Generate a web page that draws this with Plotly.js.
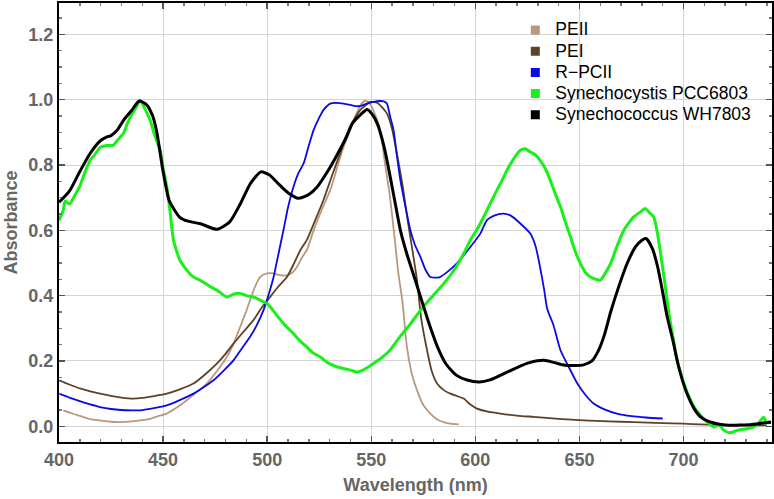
<!DOCTYPE html>
<html>
<head>
<meta charset="utf-8">
<script src="https://cdn.plot.ly/plotly-3.0.1.min.js"></script>
<style>html,body{margin:0;padding:0;background:#fff;}#chart{width:774px;height:499px;}</style>
</head>
<body>
<div id="chart"></div>
<script>
// ---- Data ----
const peiiWl = [402,406,410,415,419.7,425,429.3,435,440,443.8,447,451.8,456,461.4,466,471,476,480.6,484,487,489.5,491.8,494,496.6,500,503,506,509.5,512,514.3,517,519,522.3,526,530.3,533.5,536.7,540,543,545,547,549,551.5,554.3,556.5,559,561,563,565,567,569.5,572,575,578.4,581.5,584.8,588,592];
const peiiAbs = [0.049,0.04,0.032,0.022,0.018,0.014,0.013,0.015,0.019,0.023,0.03,0.039,0.055,0.08,0.104,0.131,0.17,0.212,0.255,0.304,0.345,0.386,0.425,0.457,0.468,0.468,0.463,0.462,0.47,0.488,0.52,0.539,0.60,0.66,0.723,0.79,0.855,0.91,0.958,0.985,0.996,0.99,0.96,0.907,0.81,0.702,0.59,0.47,0.38,0.25,0.16,0.11,0.065,0.039,0.022,0.013,0.008,0.006];

const peiWl = [400,405,410,415,419.7,425,430,435.7,440,445,451.8,458,464.6,470,475.8,480,483.8,488,493.4,497,501.4,505,509.5,513,515.9,519,523,527,531,535,538,541.5,545,549.5,553,557.5,560,562.3,565,567,570,572,574,576.8,579,581.6,585,588,591,594.4,597,600.8,606,612,620,628,640,652,664,676,690,700,708,716,725,740];
const peiAbs = [0.141,0.128,0.116,0.107,0.10,0.093,0.088,0.085,0.087,0.092,0.10,0.113,0.131,0.158,0.192,0.222,0.253,0.285,0.325,0.36,0.396,0.425,0.457,0.50,0.539,0.57,0.63,0.692,0.765,0.835,0.89,0.937,0.97,0.993,0.99,0.958,0.91,0.835,0.74,0.651,0.53,0.447,0.33,0.233,0.17,0.131,0.11,0.10,0.093,0.085,0.07,0.054,0.045,0.039,0.033,0.029,0.023,0.018,0.015,0.013,0.01,0.008,0.006,0.004,0.003,0.003];

const rpciiWl = [400,405,410,415,419.7,425,430,435,439,445,451.8,458,464.6,470,474.2,479,483.8,488,491.8,495,498.2,501,503,505.5,507.8,510,512.6,515,517.5,520,522.3,525,527,530.3,533,536.7,540,543,545.5,548,551,554.3,556,557.5,559,560.7,562.5,564,566.5,568.8,571,573.6,576,578.4,581,583,587,591,597.6,602.4,605.6,609,613.6,617,621.6,626.4,629,631,633,634.5,637.5,640.9,645,649,653,657,662,668,675,682,690];
const rpciiAbs = [0.10,0.088,0.077,0.067,0.059,0.053,0.05,0.049,0.049,0.055,0.064,0.08,0.10,0.122,0.141,0.17,0.202,0.24,0.274,0.31,0.355,0.41,0.455,0.53,0.60,0.67,0.733,0.775,0.805,0.86,0.907,0.945,0.968,0.988,0.99,0.988,0.984,0.98,0.982,0.988,0.993,0.996,0.995,0.988,0.95,0.907,0.82,0.753,0.67,0.60,0.555,0.519,0.48,0.457,0.455,0.457,0.475,0.498,0.549,0.59,0.631,0.645,0.651,0.645,0.621,0.59,0.55,0.49,0.42,0.36,0.31,0.233,0.18,0.131,0.095,0.069,0.052,0.039,0.031,0.027,0.024];

const cystisWl = [400,402,403,405,407,410,412,415,417,420,423,426,428,431,433,435,437,439,441,443.8,446,448.6,450,451.8,453.5,455,458,461.4,464,467.8,472,475.8,480.6,484,487,490,493.4,497,500,504,507.8,512.6,516,519,522,525.5,529,533.5,538,541,543,546,549,551,555,559,564,569,573.6,579,584.8,590,594.4,597.6,601,604,607,610.4,613,615.2,618,621.6,624,626.4,629,631,633.5,636,638.5,640.9,643,645.7,648,650.5,653,655.3,658,660,662.5,665,668,671.3,674,676,679,681.7,683.5,685.7,687.5,689,691,693,695,697,700,702,705,708,711,714.6,717,719,722,724,727,730,733.7,736,738.5,740,742];
const cystisAbs = [0.63,0.66,0.69,0.68,0.70,0.735,0.77,0.815,0.83,0.855,0.86,0.86,0.875,0.897,0.93,0.955,0.975,0.998,0.975,0.937,0.89,0.845,0.79,0.733,0.65,0.57,0.51,0.478,0.46,0.447,0.43,0.417,0.396,0.405,0.407,0.40,0.396,0.385,0.376,0.345,0.315,0.284,0.26,0.243,0.225,0.212,0.195,0.182,0.175,0.17,0.166,0.172,0.183,0.192,0.21,0.233,0.276,0.315,0.355,0.395,0.437,0.48,0.529,0.57,0.605,0.641,0.68,0.723,0.755,0.784,0.815,0.845,0.85,0.84,0.83,0.815,0.79,0.753,0.71,0.672,0.63,0.58,0.535,0.498,0.47,0.457,0.45,0.447,0.47,0.499,0.55,0.60,0.625,0.641,0.655,0.667,0.655,0.641,0.59,0.529,0.44,0.346,0.27,0.2,0.135,0.1,0.06,0.035,0.015,-0.002,0.005,-0.01,-0.02,-0.017,-0.01,-0.008,-0.002,0.01,0.028,0.01,0.015];

const coccusWl = [400,405,410,415,420,423,425,428,431,435,438.5,442,445,447,450,453,458,462,468,476,482,487,492,497,501,505,510,515,520,524,529,533.5,538,541,545,548,550.5,553,556,558,561,564,567,570,574,578,582,586,591,596,602,607,612,616,620,626,633,638,643,648,652,656,659,662,665,669,673,677,680,682,685,687.5,690,692,695,697,700,702,705,708,712,716,720,724,728,732,736,740,742];
const coccusAbs = [0.686,0.72,0.78,0.836,0.875,0.886,0.89,0.907,0.937,0.968,0.996,0.985,0.95,0.90,0.78,0.69,0.64,0.628,0.62,0.603,0.626,0.68,0.744,0.779,0.77,0.745,0.715,0.698,0.71,0.733,0.78,0.83,0.885,0.928,0.955,0.97,0.955,0.925,0.86,0.80,0.70,0.60,0.53,0.47,0.39,0.31,0.24,0.19,0.156,0.142,0.136,0.142,0.156,0.168,0.18,0.195,0.202,0.195,0.187,0.186,0.188,0.2,0.23,0.28,0.35,0.43,0.50,0.55,0.57,0.575,0.545,0.49,0.41,0.34,0.26,0.20,0.13,0.095,0.055,0.03,0.015,0.008,0.004,0.003,0.004,0.005,0.008,0.012,0.012];

const seriesNames = ['PEII','PEI','R\u2212PCII','Synechocystis PCC6803','Synechococcus WH7803'];
const xTickVals = [400,450,500,550,600,650,700];
const yTickVals = [0.0,0.2,0.4,0.6,0.8,1.0,1.2];

// ---- Styles ----
const colors = ['#b9987c','#5e4126','#0a0ae6','#19f019','#000000'];
const widths = [1.8,1.8,1.8,3,3];
const xs = [peiiWl,peiWl,rpciiWl,cystisWl,coccusWl];
const ys = [peiiAbs,peiAbs,rpciiAbs,cystisAbs,coccusAbs];

const traces = [];
xs.forEach((x,i) => {
  traces.push({x: x, y: ys[i], type:'scatter', mode:'lines', name: seriesNames[i],
    line:{color:colors[i], width:widths[i], shape:'spline', smoothing:0.6}, showlegend:false, hoverinfo:'skip'});
});
// legend entries with square swatches
seriesNames.forEach((n,i) => {
  traces.push({x:[null], y:[null], type:'scatter', mode:'markers',
    name:'<span style="font-size:17.5px">'+n+'</span>',
    marker:{symbol:'square', size:9, color:colors[i]}, showlegend:true});
});

const tickFont = {family:'Liberation Sans, Arial, sans-serif', size:18, color:'#666666', weight:'bold'};
const layout = {
  width:774, height:499,
  margin:{l:59, r:2, t:3, b:57},
  paper_bgcolor:'#ffffff', plot_bgcolor:'#ffffff',
  showlegend:true,
  legend:{x:0.64, y:0.974, xanchor:'left', yanchor:'top', bgcolor:'rgba(0,0,0,0)',
    font:{family:'Liberation Sans, Arial, sans-serif', size:14, color:'#000'}, tracegroupgap:0, itemwidth:30},
  xaxis:{range:[400,742.5], tickvals:xTickVals, ticktext:xTickVals.map(String),
    showgrid:true, gridcolor:'#d4d4d4', gridwidth:1, zeroline:false,
    showline:true, linecolor:'#000', linewidth:2, mirror:'ticks',
    ticks:'inside', ticklen:6, tickwidth:1.5, tickcolor:'#555',
    minor:{dtick:10, tick0:400, ticks:'inside', ticklen:3, tickcolor:'#777', showgrid:false},
    tickfont:tickFont,
    title:{text:'Wavelength (nm)', font:tickFont, standoff:10}},
  yaxis:{range:[-0.048,1.296], tickvals:yTickVals, ticktext:yTickVals.map(v=>v.toFixed(1)),
    showgrid:true, gridcolor:'#d4d4d4', gridwidth:1, zeroline:false,
    showline:true, linecolor:'#000', linewidth:2, mirror:'ticks',
    ticks:'inside', ticklen:6, tickwidth:1.5, tickcolor:'#555',
    minor:{dtick:0.05, tick0:0, ticks:'inside', ticklen:3, tickcolor:'#777', showgrid:false},
    tickfont:tickFont,
    title:{text:'Absorbance', font:tickFont, standoff:6}}
};
Plotly.newPlot('chart', traces, layout, {staticPlot:true, displayModeBar:false});
</script>
</body>
</html>
